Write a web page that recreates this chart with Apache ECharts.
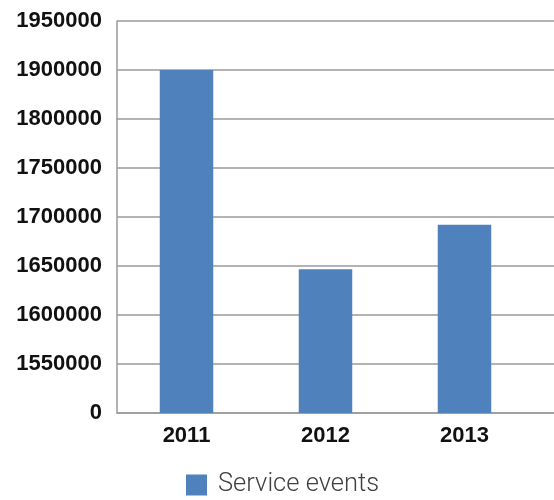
<!DOCTYPE html>
<html>
<head>
<meta charset="utf-8">
<style>
  html, body { margin: 0; padding: 0; background: #ffffff; }
  #chart { width: 554px; height: 500px; }
</style>
<script src="https://cdn.jsdelivr.net/npm/echarts@6/dist/echarts.min.js"></script>
</head>
<body>
<div id="chart"></div>
<script>
// Yearly service event counts
const years = ['2011', '2012', '2013'];
const serviceEvents = [1900000, 1646600, 1692200];

// Value axis: stretches 0–1500000 and 1800000–1850000 are cut out of the scale
const yMin = 0;
const yMax = 1950000;
const yStep = 50000;
const yBreaks = [[0, 1500000], [1800000, 1850000]];
const yTickLabels = [0, 1550000, 1600000, 1650000, 1700000, 1750000, 1800000, 1900000, 1950000];

const gridColor = '#9a9a9a';

const chart = echarts.init(document.getElementById('chart'));

const barData = serviceEvents.map((v, i) => [i, v]);

chart.setOption({
  animation: false,
  backgroundColor: '#ffffff',
  grid: { left: 117, right: 0, top: 21, bottom: 87, containLabel: false },
  xAxis: {
    type: 'value',
    min: -0.5,
    max: 2.644,
    axisLine: { show: true, onZero: false, lineStyle: { color: gridColor, width: 1.5 } },
    axisTick: { show: false },
    splitLine: { show: false },
    axisLabel: {
      customValues: years.map((_, i) => i),
      formatter: v => years[Math.round(v)] ?? '',
      color: '#111111',
      fontFamily: 'Liberation Sans',
      fontWeight: 'bold',
      fontSize: 22,
      margin: 12
    }
  },
  yAxis: {
    type: 'value',
    min: yMin,
    max: yMax,
    interval: yStep,
    breaks: yBreaks.map(([start, end]) => ({ start, end, gap: 0 })),
    breakArea: { show: false },
    breakLabelLayout: { moveOverlap: false },
    axisLine: { show: true, onZero: false, lineStyle: { color: gridColor, width: 1.5 } },
    axisTick: { show: false },
    splitLine: { show: true, lineStyle: { color: gridColor, width: 1.5 } },
    axisLabel: {
      formatter: v => (yTickLabels.includes(v) ? String(v) : ''),
      color: '#111111',
      fontFamily: 'Liberation Sans',
      fontWeight: 'bold',
      fontSize: 22,
      margin: 15
    }
  },
  legend: {
    left: 186,
    top: 472,
    padding: 0,
    icon: 'rect',
    itemWidth: 21,
    itemHeight: 21,
    itemGap: 10,
    textStyle: {
      color: '#404040',
      fontFamily: 'Roboto',
      fontWeight: 300,
      fontSize: 25.5,
      padding: [0, 0, 0, 6]
    },
    data: ['Service events']
  },
  series: [{
    name: 'Service events',
    type: 'bar',
    barWidth: 53.5,
    itemStyle: { color: '#4f81bd' },
    data: barData,
    z: 3,
    // grid line at the upper break boundary, drawn beneath the bars
    markLine: {
      silent: true,
      z: 1,
      symbol: 'none',
      label: { show: false },
      lineStyle: { color: gridColor, width: 1.5, type: 'solid' },
      data: [{ yAxis: yBreaks[1][0] }]
    }
  }]
});
</script>
</body>
</html>
